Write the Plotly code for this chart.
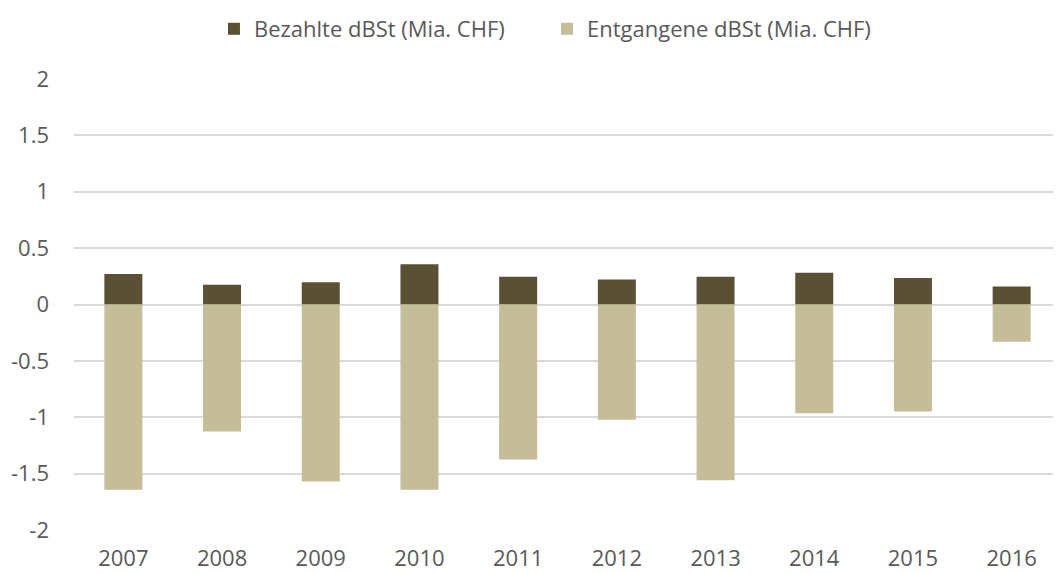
import plotly.graph_objects as go

years = ["2007", "2008", "2009", "2010", "2011", "2012", "2013", "2014", "2015", "2016"]
bezahlt = [0.27, 0.175, 0.198, 0.358, 0.246, 0.222, 0.246, 0.282, 0.234, 0.16]
entgangen = [-1.644, -1.127, -1.57, -1.644, -1.375, -1.023, -1.559, -0.964, -0.949, -0.331]
y_tickvals = [-2, -1.5, -1, -0.5, 0, 0.5, 1, 1.5, 2]
y_ticktext = ["-2", "-1.5", "-1", "-0.5", "0", "0.5", "1", "1.5", "2"]

name_bez = "Bezahlte dBSt (Mia. CHF)"
name_ent = "Entgangene dBSt (Mia. CHF)"

FONT = "Open Sans"
GREY = "#595959"
FS = 22

fig = go.Figure()
fig.add_trace(go.Bar(x=years, y=bezahlt, name=name_bez, marker=dict(color="#5a5033", line=dict(width=0))))
fig.add_trace(go.Bar(x=years, y=entgangen, name=name_ent, marker=dict(color="#c5bd97", line=dict(width=0))))

# page body has an 8px margin, so the figure is sized to fit the 1061x573 window
fig.update_layout(
    width=1053, height=565,
    barmode="relative",
    bargap=0.615,
    plot_bgcolor="white", paper_bgcolor="white",
    margin=dict(l=66, r=0, t=71, b=43, autoexpand=False),
    font=dict(family=FONT, size=FS, color=GREY),
    legend=dict(orientation="h", x=0.1956, xref="container", xanchor="left",
                y=1, yref="container", yanchor="top",
                font=dict(family=FONT, size=FS, color=GREY),
                traceorder="normal", itemwidth=30,
                entrywidth=288, entrywidthmode="pixels"),
    xaxis=dict(type="category", showgrid=False, showline=False, ticks="",
               tickfont=dict(family=FONT, size=FS, color=GREY), ticklabelstandoff=13),
    yaxis=dict(range=[-2, 2], tickvals=y_tickvals, ticktext=y_ticktext,
               showgrid=True, gridcolor="#d9d9d9", gridwidth=1.5,
               zeroline=True, zerolinecolor="#d9d9d9", zerolinewidth=1.5,
               showline=False, ticks="", ticklabelstandoff=24,
               tickfont=dict(family=FONT, size=FS, color=GREY)),
)

fig.write_html("out.html")
